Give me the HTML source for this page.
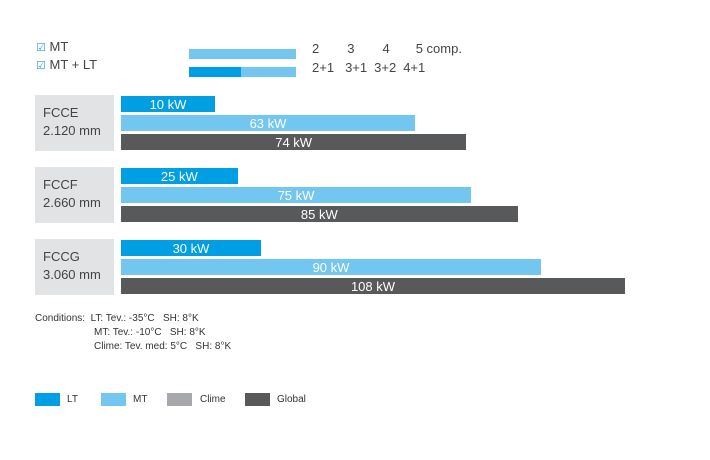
<!DOCTYPE html>
<html><head><meta charset="utf-8"><style>
body{margin:0;background:#fff;font-family:"Liberation Sans",sans-serif;color:#3c3c3c}
#c{position:relative;width:710px;height:460px;overflow:hidden}
.a{position:absolute}
.bar{position:absolute;height:16px;color:#fff;font-size:13px;line-height:17px;text-align:center}
.box{position:absolute;background:#e2e3e5;left:35px;width:79px;height:56px;font-size:13px;line-height:18px;padding:9px 0 0 8px;box-sizing:border-box;color:#444}
.t{position:absolute;font-size:13px;color:#444}
.s{position:absolute;font-size:10px;color:#333}
.sw{position:absolute;width:25px;height:13px}
</style></head><body>
<div id="c">
<div class="t" style="left:36px;top:39px"><span style="color:#2aa0dc;font-size:11px">☑</span> MT</div>
<div class="t" style="left:36px;top:57px"><span style="color:#2aa0dc;font-size:11px">☑</span> MT + LT</div>
<div class="a" style="left:189px;top:49px;width:107px;height:10px;background:#73c6ef"></div>
<div class="a" style="left:189px;top:67px;width:107px;height:10px;background:#73c6ef"><div style="width:52px;height:10px;background:#009fe3"></div></div>
<div class="t" style="left:312px;top:41px;word-spacing:0">2<span style="padding-left:28px">3</span><span style="padding-left:28px">4</span><span style="padding-left:26px">5 comp.</span></div>
<div class="t" style="left:312px;top:60px">2+1<span style="padding-left:11px">3+1</span><span style="padding-left:7px">3+2</span><span style="padding-left:7px">4+1</span></div>
<div id="rows"></div>
<div class="s" style="left:35px;top:312px;line-height:14px">Conditions:&nbsp; LT: Tev.: -35°C&nbsp;&nbsp; SH: 8°K</div>
<div class="s" style="left:94px;top:326px;line-height:14px">MT: Tev.: -10°C&nbsp;&nbsp; SH: 8°K</div>
<div class="s" style="left:94px;top:340px;line-height:14px">Clime: Tev. med: 5°C&nbsp;&nbsp; SH: 8°K</div>
<div class="sw" style="left:35px;top:393px;background:#009fe3"></div><div class="s" style="left:67px;top:394px">LT</div>
<div class="sw" style="left:101px;top:393px;background:#73c6ef"></div><div class="s" style="left:133px;top:394px">MT</div>
<div class="sw" style="left:167px;top:393px;background:#a7a8ab"></div><div class="s" style="left:200px;top:394px">Clime</div>
<div class="sw" style="left:245px;top:393px;background:#58595b"></div><div class="s" style="left:277px;top:394px">Global</div>
</div>
<script>
const models=["FCCE","FCCF","FCCG"];
const sizes=["2.120 mm","2.660 mm","3.060 mm"];
const ltValues=[10,25,30];
const mtValues=[63,75,90];
const globalValues=[74,85,108];
const x0=121, k=504/108, minW=94;
function w(v){return Math.max(v*k,minW);}
const rows=document.getElementById('rows');
const colors=["#009fe3","#73c6ef","#58595b"];
const names=["lt","mt","global"];
models.forEach((m,i)=>{
  const y=96+i*72;
  const b=document.createElement('div');b.className='box';b.style.top=(y-1)+'px';
  
  
  b.innerHTML=m+'<br>'+sizes[i];rows.appendChild(b);
  [ltValues[i],mtValues[i],globalValues[i]].forEach((v,j)=>{
    const d=document.createElement('div');d.className='bar';
    
    
    d.style.left=x0+'px';d.style.top=(y+j*19)+'px';d.style.width=w(v)+'px';d.style.background=colors[j];
    d.textContent=v+' kW';rows.appendChild(d);
  });
});
</script>
</body></html>
